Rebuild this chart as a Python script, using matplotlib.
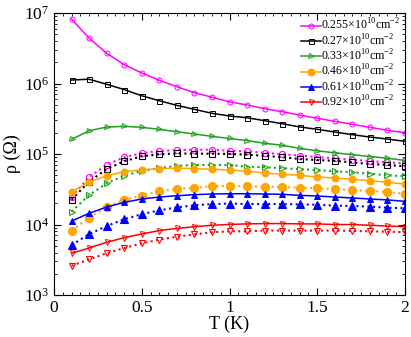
import numpy as np
import matplotlib
matplotlib.use("Agg")
import matplotlib.pyplot as plt
from matplotlib.ticker import LogLocator, MultipleLocator, NullFormatter

plt.rcParams['font.family'] = ['Liberation Serif', 'DejaVu Serif']
plt.rcParams['mathtext.fontset'] = 'custom'
plt.rcParams['mathtext.rm'] = 'Liberation Serif'

# temperatures (K)
T = np.round(np.arange(1, 21) * 0.1, 2)

# solid curves
rho_255 = [8.2e6, 4.4e6, 2.68e6, 1.85e6, 1.41e6, 1.11e6, 9.0e5, 7.4e5, 6.4e5, 5.5e5,
           4.96e5, 4.4e5, 3.98e5, 3.57e5, 3.21e5, 2.91e5, 2.64e5, 2.39e5, 2.17e5, 2.0e5]
rho_27 = [1.12e6, 1.15e6, 9.75e5, 8.2e5, 6.7e5, 5.7e5, 4.9e5, 4.3e5, 3.78e5, 3.46e5,
          3.27e5, 2.97e5, 2.69e5, 2.42e5, 2.24e5, 2.05e5, 1.88e5, 1.74e5, 1.63e5, 1.51e5]
rho_33 = [1.61e5, 2.14e5, 2.41e5, 2.47e5, 2.39e5, 2.24e5, 2.07e5, 1.92e5, 1.78e5, 1.66e5,
          1.55e5, 1.42e5, 1.33e5, 1.20e5, 1.11e5, 1.04e5, 9.8e4, 9.2e4, 8.7e4, 8.1e4]
rho_46 = [2.92e4, 3.97e4, 4.92e4, 5.6e4, 5.98e4, 6.2e4, 6.3e4, 6.2e4, 6.07e4, 5.93e4,
          5.69e4, 5.38e4, 5.15e4, 4.99e4, 4.72e4, 4.57e4, 4.38e4, 4.18e4, 3.97e4, 3.75e4]
rho_61 = [1.12e4, 1.44e4, 1.77e4, 2.06e4, 2.30e4, 2.45e4, 2.56e4, 2.65e4, 2.71e4, 2.73e4,
          2.73e4, 2.71e4, 2.68e4, 2.59e4, 2.54e4, 2.45e4, 2.38e4, 2.30e4, 2.23e4, 2.13e4]
rho_92 = [3.9e3, 4.64e3, 5.59e3, 6.5e3, 7.33e3, 8.2e3, 8.8e3, 9.3e3, 9.75e3, 1.0e4,
          1.02e4, 1.03e4, 1.03e4, 1.02e4, 1.02e4, 1.0e4, 9.98e3, 9.75e3, 9.5e3, 9.3e3]

# dotted curves
rho_255_d = [2.48e4, 4.67e4, 7.05e4, 8.97e4, 1.03e5, 1.10e5, 1.14e5, 1.15e5, 1.15e5, 1.11e5,
             1.09e5, 1.04e5, 9.9e4, 9.5e4, 9.06e4, 8.7e4, 8.3e4, 7.96e4, 7.6e4, 7.4e4]
rho_27_d = [2.25e4, 4.05e4, 6.1e4, 7.9e4, 9.3e4, 9.9e4, 1.02e5, 1.01e5, 1.01e5, 1.0e5,
            9.8e4, 9.4e4, 9.0e4, 8.5e4, 8.2e4, 8.0e4, 7.6e4, 7.2e4, 7.0e4, 6.7e4]
rho_33_d = [1.52e4, 2.62e4, 3.84e4, 4.92e4, 5.74e4, 6.3e4, 6.8e4, 6.98e4, 6.98e4, 6.98e4,
            6.6e4, 6.5e4, 6.3e4, 6.1e4, 5.9e4, 5.7e4, 5.5e4, 5.26e4, 4.99e4, 4.83e4]
rho_46_d = [8.2e3, 1.25e4, 1.75e4, 2.23e4, 2.57e4, 2.96e4, 3.19e4, 3.33e4, 3.48e4, 3.54e4,
            3.48e4, 3.44e4, 3.4e4, 3.33e4, 3.26e4, 3.16e4, 3.08e4, 2.99e4, 2.89e4, 2.73e4]
rho_61_d = [5.1e3, 7.3e3, 9.5e3, 1.19e4, 1.40e4, 1.59e4, 1.75e4, 1.87e4, 1.95e4, 1.98e4,
            1.95e4, 1.95e4, 1.95e4, 1.93e4, 1.91e4, 1.85e4, 1.83e4, 1.79e4, 1.73e4, 1.70e4]
rho_92_d = [2.6e3, 3.2e3, 3.91e3, 4.64e3, 5.4e3, 6.1e3, 6.7e3, 7.26e3, 7.75e3, 8.0e3,
            8.0e3, 8.2e3, 8.2e3, 8.2e3, 8.2e3, 8.2e3, 8.1e3, 8.0e3, 7.9e3, 7.8e3]

labels = [r"0.255$\times$10$^{10}$cm$^{-2}$", r"0.27$\times$10$^{10}$cm$^{-2}$",
          r"0.33$\times$10$^{10}$cm$^{-2}$", r"0.46$\times$10$^{10}$cm$^{-2}$",
          r"0.61$\times$10$^{10}$cm$^{-2}$", r"0.92$\times$10$^{10}$cm$^{-2}$"]

solid = [rho_255, rho_27, rho_33, rho_46, rho_61, rho_92]
dotted = [rho_255_d, rho_27_d, rho_33_d, rho_46_d, rho_61_d, rho_92_d]
colors = ['#ff00ff', 'black', '#20a020', '#ffa500', '#0000ff', '#ff0000']
markers = ['o', 's', '>', 'o', '^', 'v']
filled = [False, False, False, True, True, False]

fig = plt.figure(figsize=(4.11, 3.37), dpi=100)
ax = fig.add_axes([54 / 411, 42 / 337, 351 / 411, 282 / 337])

for ys, yd, c, m, f, lab in zip(solid, dotted, colors, markers, filled, labels):
    fc = c if f else 'none'
    ms = 5 if f else 3.6
    ax.plot(T, ys, '-', color=c, lw=1.1, marker=m, ms=ms, mfc=fc, mec=c,
            mew=0.7, label=lab)
    ax.plot(T, yd, ':', color=c, lw=1.5, marker=m, ms=ms + 0.8, mfc=fc, mec=c,
            mew=0.8)

ax.set_yscale('log')
ax.set_xlim(0, 2)
ax.set_ylim(1e3, 1e7)
ax.xaxis.set_major_locator(MultipleLocator(0.5))
ax.xaxis.set_minor_locator(MultipleLocator(0.05))
ax.set_xticks([0, 0.5, 1, 1.5, 2])
ax.set_xticklabels(['0', '0.5', '1', '1.5', '2'])
ax.yaxis.set_major_locator(LogLocator(base=10, numticks=10))
ax.yaxis.set_minor_locator(LogLocator(base=10, subs=np.arange(2, 10), numticks=10))
ax.yaxis.set_minor_formatter(NullFormatter())
ax.tick_params(which='both', direction='in', top=True, right=True, labelsize=12.5)
ax.tick_params(which='major', length=5, width=0.8)
ax.tick_params(which='minor', length=2.5, width=0.6)

ax.set_xlabel("T (K)", fontsize=13, labelpad=0)
ax.set_ylabel("ρ (Ω)", fontsize=13, labelpad=2)

ax.legend(loc='upper right', frameon=False, fontsize=8.6, handlelength=1.6,
          handletextpad=0.05, labelspacing=0.0, borderaxespad=0.2,
          borderpad=0.2)

fig.savefig("out.png", dpi=100)
